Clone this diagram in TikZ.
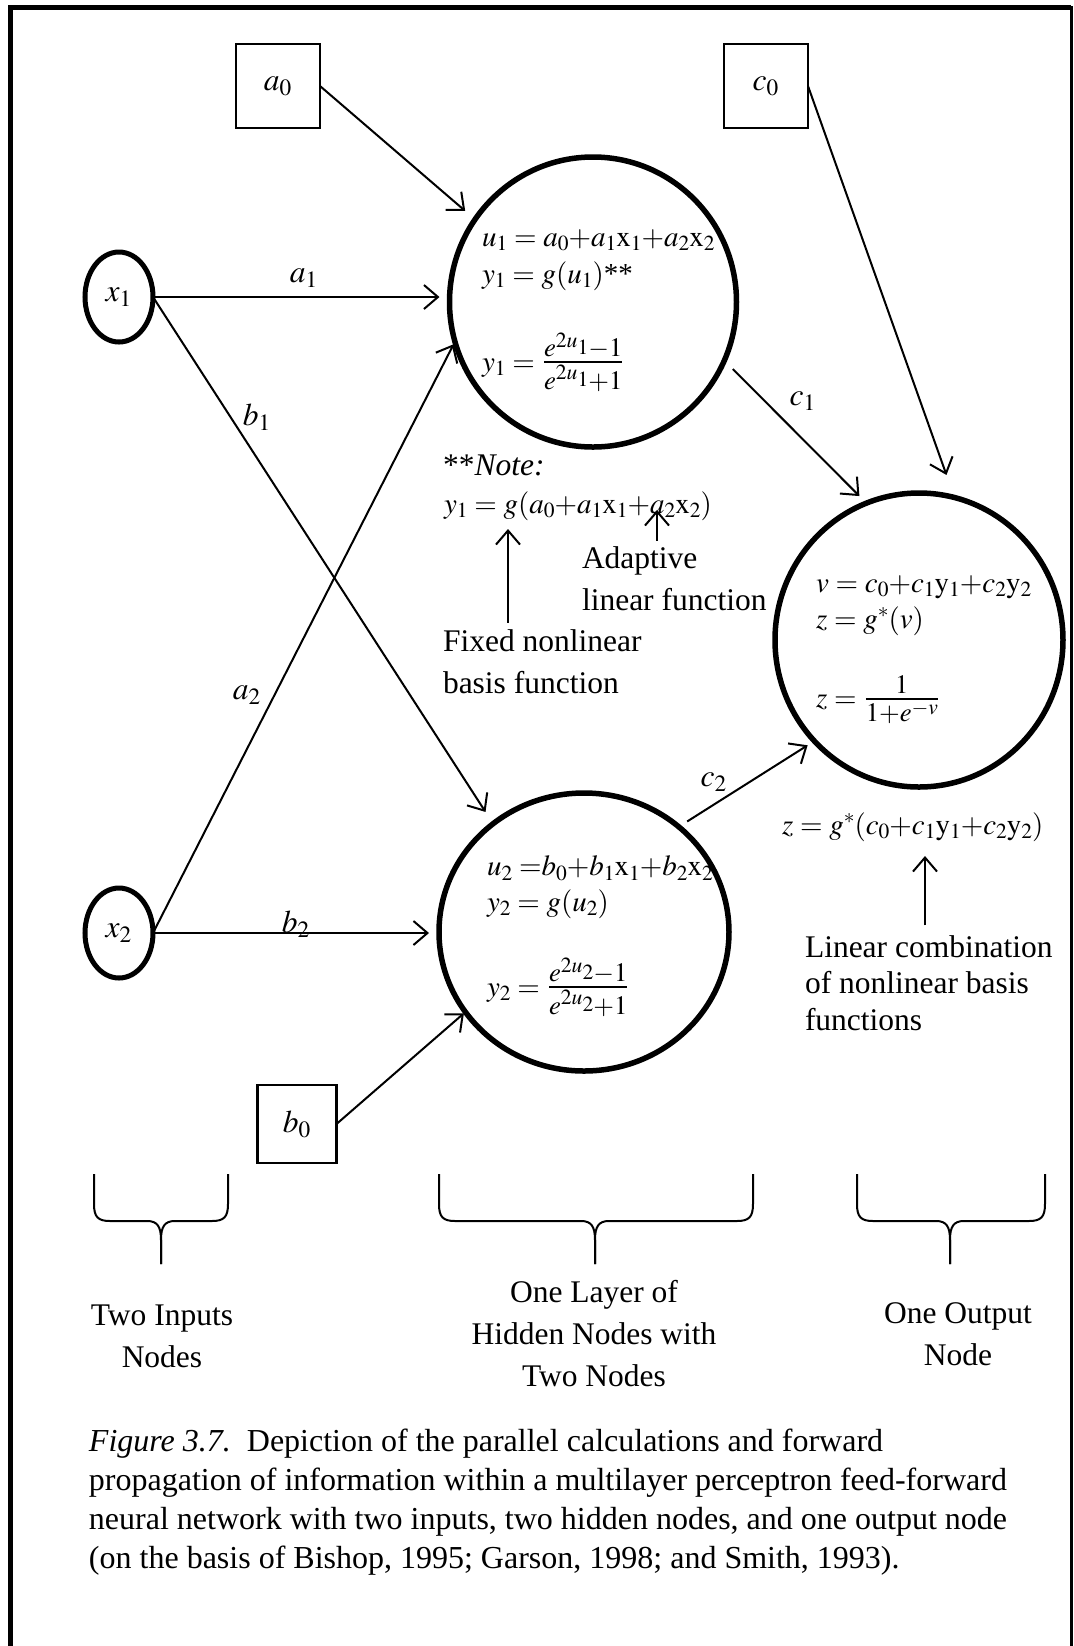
\documentclass[tikz,border=0pt]{standalone}
\usepackage{amsmath}
\usepackage{mathptmx}
\usepackage[no-math]{fontspec}
\setmainfont{Liberation Serif}
\usetikzlibrary{arrows.meta,calc,shapes.geometric}

% larger fraction with a heavier bar, as used inside the nodes
\newcommand{\nodefrac}[2]{\mbox{\fontsize{18pt}{20pt}\selectfont$\genfrac{}{}{0.9pt}{1}{#1}{#2}$}}
% tighter spacing in the formulas
\newcommand{\tightrel}{\thickmuskip=4.2mu plus 2mu\relax\scriptspace=0pt\relax}

\tikzset{
  every node/.style={font=\fontsize{15.75pt}{21pt}\selectfont, inner sep=0pt, outer sep=0pt},
  mth/.style={anchor=west, font=\fontsize{14.5pt}{18pt}\selectfont\tightrel},
  arr/.style={line width=1pt, -{Straight Barb[length=7pt,width=12pt,line width=1pt]}},
  inbox/.style={draw, line width=1.25pt, rectangle},
  innode/.style={draw, ellipse, line width=2.5pt, minimum width=34pt, minimum height=45pt},
  bignode/.style={draw, ellipse, line width=2.75pt},
  bracepath/.style={line width=1pt},
  multi/.style={align=left, anchor=west},
}

\begin{document}
\begin{tikzpicture}[x=0.5pt,y=-0.5pt]
\useasboundingbox (0,0) rectangle (1073,1646);

% frame (open at the bottom)
\draw[line width=2.5pt] (10.5,1646) -- (10.5,7.5) -- (1071,7.5);
\draw[line width=1.5pt] (1071.5,6) -- (1071.5,1646);

% bias boxes
\node[inbox, minimum width=42pt, minimum height=42pt] (a0) at (278,86) {$a_0$};
\node[inbox, minimum width=42pt, minimum height=42pt] (c0) at (766,86) {$c_0$};
\node[inbox, minimum width=39.5pt, minimum height=39pt] (b0) at (297,1124) {$b_0$};

% input nodes
\node[innode] (x1) at (119,297) {$x_1$};
\node[innode] (x2) at (119,933) {$x_2$};

% hidden and output nodes
\node[bignode, minimum width=143.5pt, minimum height=145pt] (h1) at (593,302) {};
\node[bignode, minimum width=145pt, minimum height=139pt] (h2) at (584,932) {};
\node[bignode, minimum width=144pt, minimum height=147pt] (o) at (919,640) {};

% contents of the first hidden node
\node[mth] (h1a) at (482,240) {$u_1 = a_0{+}a_1\mathrm{x}_1{+}a_2\mathrm{x}_2$};
\node[mth] (h1b) at (482,276) {$y_1 = g(u_1)$**};
\node[mth] (h1c) at (482,362) {$y_1 = \nodefrac{e^{2u_1}-1}{e^{2u_1}+1}$};

% contents of the second hidden node
\node[mth] (h2a) at (487,868) {$u_2\;{=}b_0{+}b_1\mathrm{x}_1{+}b_2\mathrm{x}_2$};
\node[mth] (h2b) at (487,904) {$y_2 = g(u_2)$};
\node[mth] (h2c) at (487,987) {$y_2 = \nodefrac{e^{2u_2}-1}{e^{2u_2}+1}$};

% contents of the output node
\node[mth] (oa) at (816,587) {$v = c_0{+}c_1\mathrm{y}_1{+}c_2\mathrm{y}_2$};
\node[mth] (ob) at (816,621) {$z = g^{*}(v)$};
\node[mth] (oc) at (816,700) {$z = \nodefrac{1}{1+e^{-v}}$};

% weights
\draw[arr, shorten >=6.5pt] (a0.east) -- (h1.145);
\draw[arr, shorten >=5pt] (x1.east) -- (x1.east -| h1.west);
\draw[arr, shorten >=7pt] (x1.east) -- (h2.130);
\draw[arr, shorten >=1.5pt] (x2.east) -- (h1.196);
\draw[arr, shorten >=5pt] (x2.east) -- (x2.east -| h2.west);
\draw[arr, shorten >=1pt] (b0.east) -- (h2.214);
\draw[arr, shorten <=6pt, shorten >=5pt] (h1.336) -- (o.111);
\draw[arr, shorten <=5pt, shorten >=4pt] (h2.48) -- (o.224);
\draw[arr, shorten >=12pt] (c0.east) -- (o.76);

% weight labels
\node (la1) at (304,278) {$a_1$};
\node (lb1) at (257,417) {$b_1$};
\node (la2) at (247,695) {$a_2$};
\node (lb2) at (296,924) {$b_2$};
\node (lc1) at (803,401) {$c_1$};
\node (lc2) at (714,782) {$c_2$};

% note on the hidden node function
\node[anchor=west] (note) at (443,465) {**\textit{Note:}};
\node[mth] (notef) at (444,506) {$y_1 = g(a_0{+}a_1\mathrm{x}_1{+}a_2\mathrm{x}_2)$};
\node[multi] (adapt) at (582,579) {Adaptive\\linear function};
\node[multi] (fixed) at (443,662) {Fixed nonlinear\\basis function};
\coordinate (gpt) at (508,529);
\coordinate (apt) at (657,510);
\draw[arr, shorten <=3.5pt] (fixed.north -| gpt) -- (gpt);
\draw[arr, shorten <=3pt] (adapt.north -| apt) -- (apt);

% note on the output node function
\node[mth] (outf) at (782,827) {$z = g^{*}(c_0{+}c_1\mathrm{y}_1{+}c_2\mathrm{y}_2)$};
\node[multi, font=\fontsize{15.75pt}{18.3pt}\selectfont] (lin) at (805,983) {Linear combination\\of nonlinear basis\\functions};
\coordinate (zpt) at (925,856);
\draw[arr, shorten <=5pt] (lin.north -| zpt) -- (zpt);

% braces under the three layers
\foreach \L/\R/\C in {94/228/161, 439/753/595, 857/1045/950}{
  \draw[bracepath] (\L,1174) -- (\L,1204) .. controls (\L,1217) and (\L+4,1221) .. (\L+16,1221)
     -- (\C-14,1221) .. controls (\C-4,1221) and (\C,1226) .. (\C,1240) -- (\C,1264);
  \draw[bracepath] (\R,1174) -- (\R,1204) .. controls (\R,1217) and (\R-4,1221) .. (\R-16,1221)
     -- (\C+14,1221) .. controls (\C+4,1221) and (\C,1226) .. (\C,1240) -- (\C,1264);
}

% layer names
\node[align=center] (lin1) at (162,1336) {Two Inputs\\Nodes};
\node[align=center] (lin2) at (594,1334) {One Layer of\\Hidden Nodes with\\Two Nodes};
\node[align=center] (lin3) at (958,1334) {One Output\\Node};

% caption
\node[multi, font=\fontsize{16pt}{19.4pt}\selectfont] (cap) at (89,1502)
  {\textit{Figure 3.7.}\enspace Depiction of the parallel calculations and forward\\
   propagation of information within a multilayer perceptron feed-forward\\
   neural network with two inputs, two hidden nodes, and one output node\\
   (on the basis of Bishop, 1995; Garson, 1998; and Smith, 1993).};
\end{tikzpicture}
\end{document}
